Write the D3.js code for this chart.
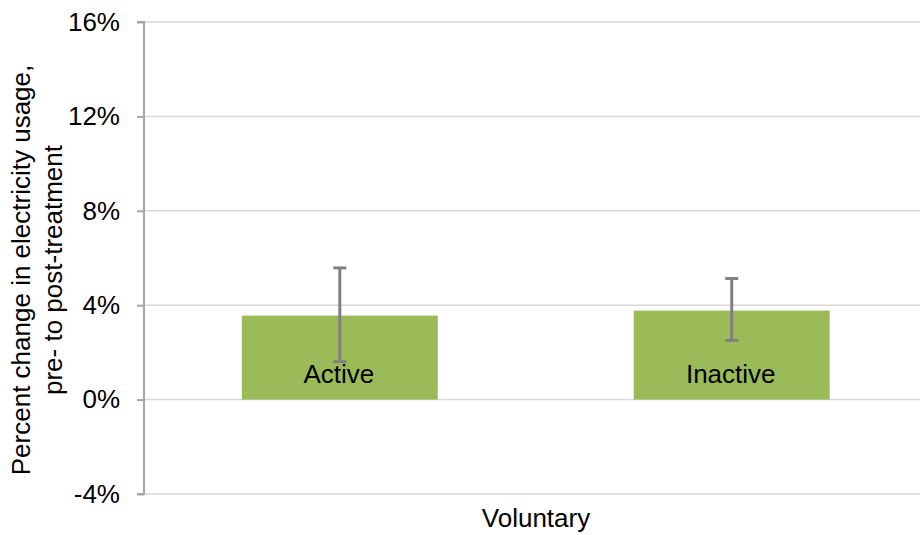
<!DOCTYPE html>
<html>
<head>
<meta charset="utf-8">
<script src="https://cdn.jsdelivr.net/npm/d3@7"></script>
<style>
  html, body { margin: 0; padding: 0; background: #fff; }
  svg { display: block; font-family: "Liberation Sans", Arial, sans-serif; }
</style>
</head>
<body>
<svg id="chart" width="922" height="535"></svg>
<script>
// ---- data ----
const category = "Voluntary";
const seriesNames = ["Active", "Inactive"];
const values = [3.56, 3.77];          // percent change
const errLow = [1.61, 2.51];          // lower end of error bar (%)
const errHigh = [5.58, 5.13];         // upper end of error bar (%)
const yTicks = [-4, 0, 4, 8, 12, 16];
const yTitleLines = ["Percent change in electricity usage,", "pre- to post-treatment"];

// ---- layout ----
const svg = d3.select("#chart");
const plot = { left: 144, right: 920, top: 22, bottom: 494 };

const y = d3.scaleLinear().domain([-4, 16]).range([plot.bottom, plot.top]);
const x = d3.scaleBand().domain(seriesNames)
  .range([plot.left, plot.right])
  .paddingInner(0.5).paddingOuter(0.24).align(0.52);

// gridlines
svg.append("g").selectAll("line").data(yTicks).join("line")
  .attr("x1", plot.left).attr("x2", plot.right)
  .attr("y1", d => y(d)).attr("y2", d => y(d))
  .attr("stroke", "#D9D9D9").attr("stroke-width", 1.5);

// y axis
const yAxis = d3.axisLeft(y).tickValues(yTicks)
  .tickFormat(d => d + "%").tickSize(7).tickPadding(17);
const ga = svg.append("g").attr("transform", `translate(${plot.left},0)`).call(yAxis);
ga.select(".domain").attr("stroke", "#A6A6A6").attr("stroke-width", 2)
  .attr("d", `M-7,${plot.top}H0V${plot.bottom}H-7`);
ga.selectAll(".tick line").attr("stroke", "#A6A6A6").attr("stroke-width", 2);
ga.selectAll(".tick text").attr("fill", "#000").attr("font-size", 26)
  .attr("font-family", "'Liberation Sans', Arial, sans-serif");

// bars
svg.append("g").selectAll("rect").data(seriesNames).join("rect")
  .attr("x", d => x(d)).attr("width", x.bandwidth())
  .attr("y", (d, i) => y(Math.max(0, values[i])))
  .attr("height", (d, i) => Math.abs(y(values[i]) - y(0)))
  .attr("fill", "#9BBB59");

// error bars
const eg = svg.append("g").attr("stroke", "#808080").attr("stroke-width", 3);
seriesNames.forEach((s, i) => {
  const cx = x(s) + x.bandwidth() / 2;
  eg.append("line").attr("x1", cx).attr("x2", cx)
    .attr("y1", y(errHigh[i])).attr("y2", y(errLow[i]));
  [errHigh[i], errLow[i]].forEach(v => {
    eg.append("line").attr("x1", cx - 6.5).attr("x2", cx + 6.5)
      .attr("y1", y(v)).attr("y2", y(v));
  });
});

// bar labels
svg.append("g").selectAll("text").data(seriesNames).join("text")
  .attr("x", d => x(d) + x.bandwidth() / 2 - 1)
  .attr("y", y(0) - 17)
  .attr("text-anchor", "middle").attr("font-size", 26).attr("fill", "#000")
  .text(d => d);

// x category label
svg.append("text")
  .attr("x", (plot.left + plot.right) / 2 + 4).attr("y", 527)
  .attr("text-anchor", "middle").attr("font-size", 26).attr("fill", "#000")
  .text(category);

// y title
const yt = svg.append("text")
  .attr("transform", `translate(29.5,270) rotate(-90)`)
  .attr("text-anchor", "middle").attr("font-size", 26).attr("fill", "#000");
yTitleLines.forEach((t, i) => {
  yt.append("tspan").attr("x", 0).attr("y", i * 32).text(t);
});
</script>
</body>
</html>
